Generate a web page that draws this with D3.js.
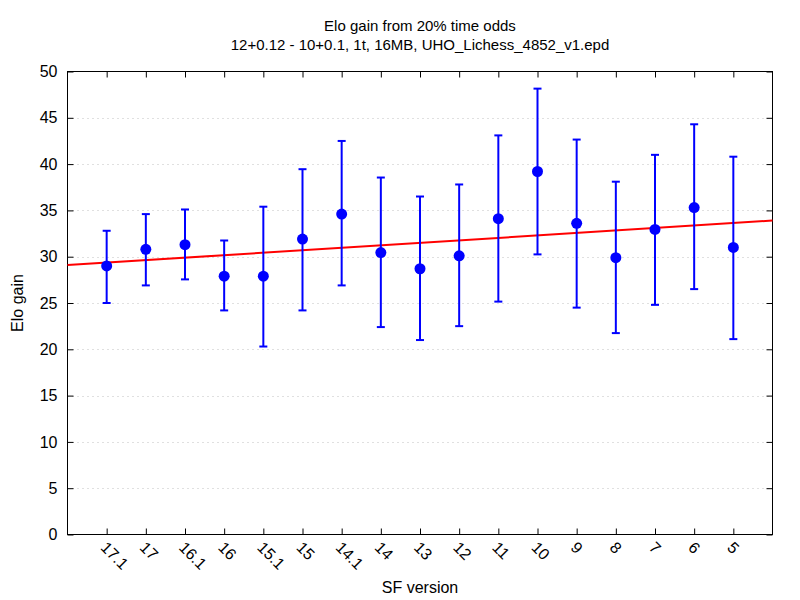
<!DOCTYPE html>
<html>
<head>
<meta charset="utf-8">
<script src="https://cdn.jsdelivr.net/npm/d3@7"></script>
<style>
  body { margin: 0; background: #fff; }
  svg { display: block; font-family: "Liberation Sans", Arial, sans-serif; }
</style>
</head>
<body>
<svg id="chart" width="800" height="600"></svg>
<script>
// ---- data ----
const versions = ["17.1","17","16.1","16","15.1","15","14.1","14","13","12","11","10","9","8","7","6","5"];
const eloGain  = [29.0, 30.8, 31.3, 27.9, 27.9, 31.9, 34.6, 30.45, 28.7, 30.1, 34.1, 39.2, 33.6, 29.9, 32.95, 35.3, 31.0];
const errLow   = [25.0, 26.9, 27.55, 24.2, 20.3, 24.2, 26.9, 22.4, 21.0, 22.5, 25.15, 30.25, 24.5, 21.75, 24.8, 26.5, 21.1];
const errHigh  = [32.8, 34.6, 35.1, 31.75, 35.4, 39.45, 42.5, 38.55, 36.5, 37.8, 43.1, 48.15, 42.65, 38.1, 41.0, 44.3, 40.8];
const yTicks   = [0, 5, 10, 15, 20, 25, 30, 35, 40, 45, 50];
// linear trend: value at x index -1 and at x index 17
const trendX   = [-1, 17];
const trendY   = [29.1, 33.9];

const titleLines = ["Elo gain from 20% time odds", "12+0.12 - 10+0.1, 1t, 16MB, UHO_Lichess_4852_v1.epd"];

// ---- layout ----
const svg = d3.select("#chart");
const L = 67.5, R = 772.5, T = 71.5, B = 534.5;

const x = d3.scaleLinear().domain([-1, versions.length]).range([L, R]);
const y = d3.scaleLinear().domain([0, 50]).range([B, T]);

// gridlines
svg.append("g").selectAll("line").data(yTicks.filter(v => v > 0 && v < 50)).join("line")
  .attr("x1", L).attr("x2", R)
  .attr("y1", d => Math.round(y(d)) + 0.5).attr("y2", d => Math.round(y(d)) + 0.5)
  .attr("stroke", "#c0c0c0").attr("stroke-width", 1).attr("stroke-dasharray", "1,4");

// axes (ticks inward, mirrored)
const xIdx = d3.range(versions.length);
const axBottom = d3.axisBottom(x).tickValues(xIdx).tickSize(-6).tickFormat("");
const axTop = d3.axisTop(x).tickValues(xIdx).tickSize(-6).tickFormat("");
const axLeft = d3.axisLeft(y).tickValues(yTicks).tickSize(-6).tickFormat(d3.format("d")).tickPadding(10);
const axRight = d3.axisRight(y).tickValues(yTicks).tickSize(-6).tickFormat("");

function styleAxis(g) {
  g.select(".domain").remove();
  g.selectAll(".tick line").attr("stroke", "#000").attr("stroke-width", 1);
}
svg.append("g").attr("transform", `translate(0,${B})`).call(axBottom).call(styleAxis);
svg.append("g").attr("transform", `translate(0,${T})`).call(axTop).call(styleAxis);
const gl = svg.append("g").attr("transform", `translate(${L},0)`).call(axLeft).call(styleAxis);
gl.selectAll(".tick text").attr("font-size", 16).attr("fill", "#000")
  .attr("font-family", "Liberation Sans, Arial, sans-serif");
svg.append("g").attr("transform", `translate(${R},0)`).call(axRight).call(styleAxis);

// border
svg.append("rect").attr("x", L).attr("y", T).attr("width", R - L).attr("height", B - T)
  .attr("fill", "none").attr("stroke", "#000").attr("stroke-width", 1);

// x tick labels rotated
svg.append("g").selectAll("text").data(versions).join("text")
  .attr("transform", (d, i) => `translate(${x(i) - 3},${B + 10}) rotate(45)`)
  .attr("font-size", 16).attr("fill", "#000").attr("dy", "0.35em")
  .attr("text-anchor", "start")
  .text(d => d);

// trend line
svg.append("line")
  .attr("x1", x(trendX[0])).attr("y1", y(trendY[0]))
  .attr("x2", x(trendX[1])).attr("y2", y(trendY[1]))
  .attr("stroke", "#ff0000").attr("stroke-width", 2);

// error bars
const eb = svg.append("g").attr("stroke", "#0000ff").attr("stroke-width", 2);
eb.selectAll("line.v").data(xIdx).join("line").attr("class", "v")
  .attr("x1", i => x(i)).attr("x2", i => x(i))
  .attr("y1", i => y(errLow[i])).attr("y2", i => y(errHigh[i]));
eb.selectAll("line.lo").data(xIdx).join("line").attr("class", "lo")
  .attr("x1", i => x(i) - 4).attr("x2", i => x(i) + 4)
  .attr("y1", i => y(errLow[i])).attr("y2", i => y(errLow[i]));
eb.selectAll("line.hi").data(xIdx).join("line").attr("class", "hi")
  .attr("x1", i => x(i) - 4).attr("x2", i => x(i) + 4)
  .attr("y1", i => y(errHigh[i])).attr("y2", i => y(errHigh[i]));

// points
svg.append("g").selectAll("circle").data(xIdx).join("circle")
  .attr("cx", i => x(i)).attr("cy", i => y(eloGain[i])).attr("r", 5.5)
  .attr("fill", "#0000ff");

// titles
svg.append("g").selectAll("text").data(titleLines).join("text")
  .attr("x", (L + R) / 2).attr("y", (d, i) => 31 + i * 19)
  .attr("text-anchor", "middle").attr("font-size", 15).attr("fill", "#000")
  .text(d => d);

// axis labels
svg.append("text").attr("x", (L + R) / 2).attr("y", 593)
  .attr("text-anchor", "middle").attr("font-size", 16).attr("fill", "#000")
  .text("SF version");
svg.append("text").attr("transform", `translate(23,${(T + B) / 2}) rotate(-90)`)
  .attr("text-anchor", "middle").attr("font-size", 16).attr("fill", "#000")
  .text("Elo gain");
</script>
</body>
</html>
